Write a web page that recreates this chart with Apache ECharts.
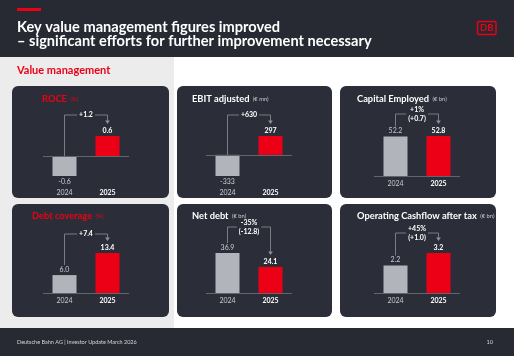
<!DOCTYPE html>
<html><head><meta charset="utf-8">
<script src="https://cdn.jsdelivr.net/npm/echarts@6/dist/echarts.min.js"></script>
<style>html,body{margin:0;padding:0;background:#fff}#c{width:514px;height:356px}</style>
</head><body><div id="c"></div>
<script>
// ---- data ----
const years = ['2024', '2025'];
const titles = ['ROCE', 'EBIT adjusted', 'Capital Employed', 'Debt coverage', 'Net debt', 'Operating Cashflow after tax'];
const units = ['(%)', '(€ mn)', '(€ bn)', '(%)', '(€ bn)', '(€ bn)'];
const roce = [-0.6, 0.6];
const ebitAdjusted = [-333, 297];
const capitalEmployed = [52.2, 52.8];
const debtCoverage = [6.0, 13.4];
const netDebt = [36.9, 24.1];
const operatingCashflow = [2.2, 3.2];
const changes = ['+1.2', '+630', '+1%\n(+0.7)', '+7.4', '-35%\n(-12.8)', '+45%\n(+1.0)'];
const decimals = [1, 0, 1, 1, 1, 1];

// ---- layout / style ----
const FONT = 'Lato';
const DARK = '#272a33';
const PANEL = '#2b2e38';
const RED = '#ec0016';
const GRAY = '#b1b4ba';
const LINE = '#8d9097';
const seriesValues = [roce, ebitAdjusted, capitalEmployed, debtCoverage, netDebt, operatingCashflow];
const layout = [
  {px: 12,  py: 86,  pw: 157, ph: 112, tx: 42,  gx: 43,  gy: 136, red: true, bracket: 21},
  {px: 177, py: 86,  pw: 155, ph: 112, tx: 192, gx: 206, gy: 136, bracket: 21},
  {px: 340, py: 86,  pw: 156, ph: 112, tx: 357, gx: 374, gy: 136, bracket: 22},
  {px: 12,  py: 204, pw: 157, ph: 113, tx: 32,  gx: 43,  gy: 253, red: true, bracket: 19},
  {px: 177, py: 204, pw: 155, ph: 113, tx: 192, gx: 206, gy: 253, bracket: 26},
  {px: 340, py: 204, pw: 156, ph: 113, tx: 357, gx: 374, gy: 253, bracket: 20}
];

const graphics = [
  {type: 'rect', shape: {x: 0, y: 0, width: 514, height: 57}, style: {fill: DARK}},
  {type: 'rect', shape: {x: 0, y: 57, width: 174, height: 271}, style: {fill: '#ececec'}},
  {type: 'rect', shape: {x: 0, y: 328, width: 514, height: 28}, style: {fill: DARK}},
  {type: 'rect', shape: {x: 17, y: 8, width: 24, height: 3}, style: {fill: RED}},
  {type: 'text', x: 17, y: 27, style: {text: 'Key value management figures improved', fill: '#fff', font: 'bold 14.6px ' + FONT, verticalAlign: 'middle'}},
  {type: 'text', x: 17, y: 41.5, style: {text: '– significant efforts for further improvement necessary', fill: '#fff', font: 'bold 14.6px ' + FONT, verticalAlign: 'middle'}},
  {type: 'rect', shape: {x: 477.5, y: 21.5, width: 18.5, height: 13, r: 1.5}, style: {fill: null, stroke: RED, lineWidth: 1.4}},
  {type: 'text', x: 486.8, y: 28.3, style: {text: 'DB', fill: RED, font: 'bold 9.5px ' + FONT, align: 'center', verticalAlign: 'middle'}},
  {type: 'text', x: 17, y: 70, style: {text: 'Value management', fill: RED, font: 'bold 11px ' + FONT, verticalAlign: 'middle'}},
  {type: 'text', x: 17, y: 342, style: {text: 'Deutsche Bahn AG | Investor Update March 2026', fill: '#d4d5d8', font: '5.5px ' + FONT, verticalAlign: 'middle'}},
  {type: 'text', x: 493, y: 342, style: {text: '10', fill: '#d4d5d8', font: '5.5px ' + FONT, align: 'right', verticalAlign: 'middle'}}
];
layout.forEach((L, i) => {
  graphics.push({type: 'rect', shape: {x: L.px, y: L.py, width: L.pw, height: L.ph, r: 6}, style: {fill: PANEL}});
  graphics.push({type: 'text', x: L.tx, y: L.py + (i < 3 ? 13 : 12), style: {
    text: '{a|' + titles[i] + '} {b|' + units[i] + '}', verticalAlign: 'middle',
    rich: {
      a: {fill: L.red ? RED : '#fff', font: 'bold 9.3px ' + FONT},
      b: {fill: L.red ? RED : '#c9cbd0', font: '5.8px ' + FONT}
    }
  }});
});

const grids = [], xAxes = [], yAxes = [], series = [];
seriesValues.forEach((vals, i) => {
  const L = layout[i];
  const hasNeg = Math.min(...vals) < 0;
  grids.push({left: L.gx, top: L.gy, width: 86, height: 40});
  xAxes.push({
    type: 'category', gridIndex: i, data: years,
    axisLine: {show: false, onZero: false}, axisTick: {show: false},
    axisLabel: {
      margin: hasNeg ? 13 : 4, fontSize: 7, fontFamily: FONT,
      formatter: (v, idx) => idx ? '{b|' + v + '}' : '{a|' + v + '}',
      rich: {
        a: {color: '#c9cbd0', fontSize: 7, fontFamily: FONT},
        b: {color: '#fff', fontSize: 7, fontWeight: 'bold', fontFamily: FONT}
      }
    }
  });
  yAxes.push({type: 'value', gridIndex: i, show: false, min: Math.min(0, ...vals), max: Math.max(0, ...vals)});
  series.push({
    type: 'bar', xAxisIndex: i, yAxisIndex: i, barWidth: 24, animation: false, silent: true,
    data: vals.map((v, k) => ({
      value: v,
      itemStyle: {color: k ? RED : GRAY},
      label: {
        show: true, position: v < 0 ? 'bottom' : 'top', distance: 2,
        color: k ? '#fff' : '#c9cbd0', fontWeight: k ? 'bold' : 'normal',
        fontSize: 7, fontFamily: FONT, formatter: () => v.toFixed(decimals[i])
      }
    })),
    markLine: {
      silent: true, symbol: 'none', animation: false, label: {show: false},
      lineStyle: {color: '#62656d', width: 1, type: 'solid'},
      data: [{yAxis: 0}]
    }
  });
  series.push({
    type: 'custom', xAxisIndex: i, yAxisIndex: i, clip: false, animation: false, silent: true,
    encode: {x: 0, y: 1},
    data: [[0, vals[0], vals[1]]],
    renderItem: (params, api) => {
      const v0 = api.value(1), v1 = api.value(2);
      const a = api.coord([0, Math.max(v0, 0)]);
      const b = api.coord([1, Math.max(v1, 0)]);
      const y0 = v0 > 0 ? a[1] - 10 : a[1];
      const tip = b[1] - 12;
      const top = Math.min(a[1], b[1]) - L.bracket;
      return {type: 'group', children: [
        {type: 'polyline', shape: {points: [[a[0], y0], [a[0], top], [b[0], top], [b[0], tip - 3]]},
         style: {stroke: LINE, lineWidth: 0.8, fill: null}},
        {type: 'polygon', shape: {points: [[b[0] - 2.3, tip - 3.5], [b[0] + 2.3, tip - 3.5], [b[0], tip]]},
         style: {fill: LINE}},
        {type: 'text', x: (a[0] + b[0]) / 2, y: top, style: {
          text: changes[i], fill: '#fff', font: 'bold 7px ' + FONT, align: 'center', verticalAlign: 'middle',
          lineHeight: 8.5, backgroundColor: PANEL, padding: [0, 2]
        }}
      ]};
    }
  });
});

const chart = echarts.init(document.getElementById('c'));
chart.setOption({
  animation: false,
  graphic: {elements: graphics},
  grid: grids, xAxis: xAxes, yAxis: yAxes, series: series
});
</script>
</body></html>
